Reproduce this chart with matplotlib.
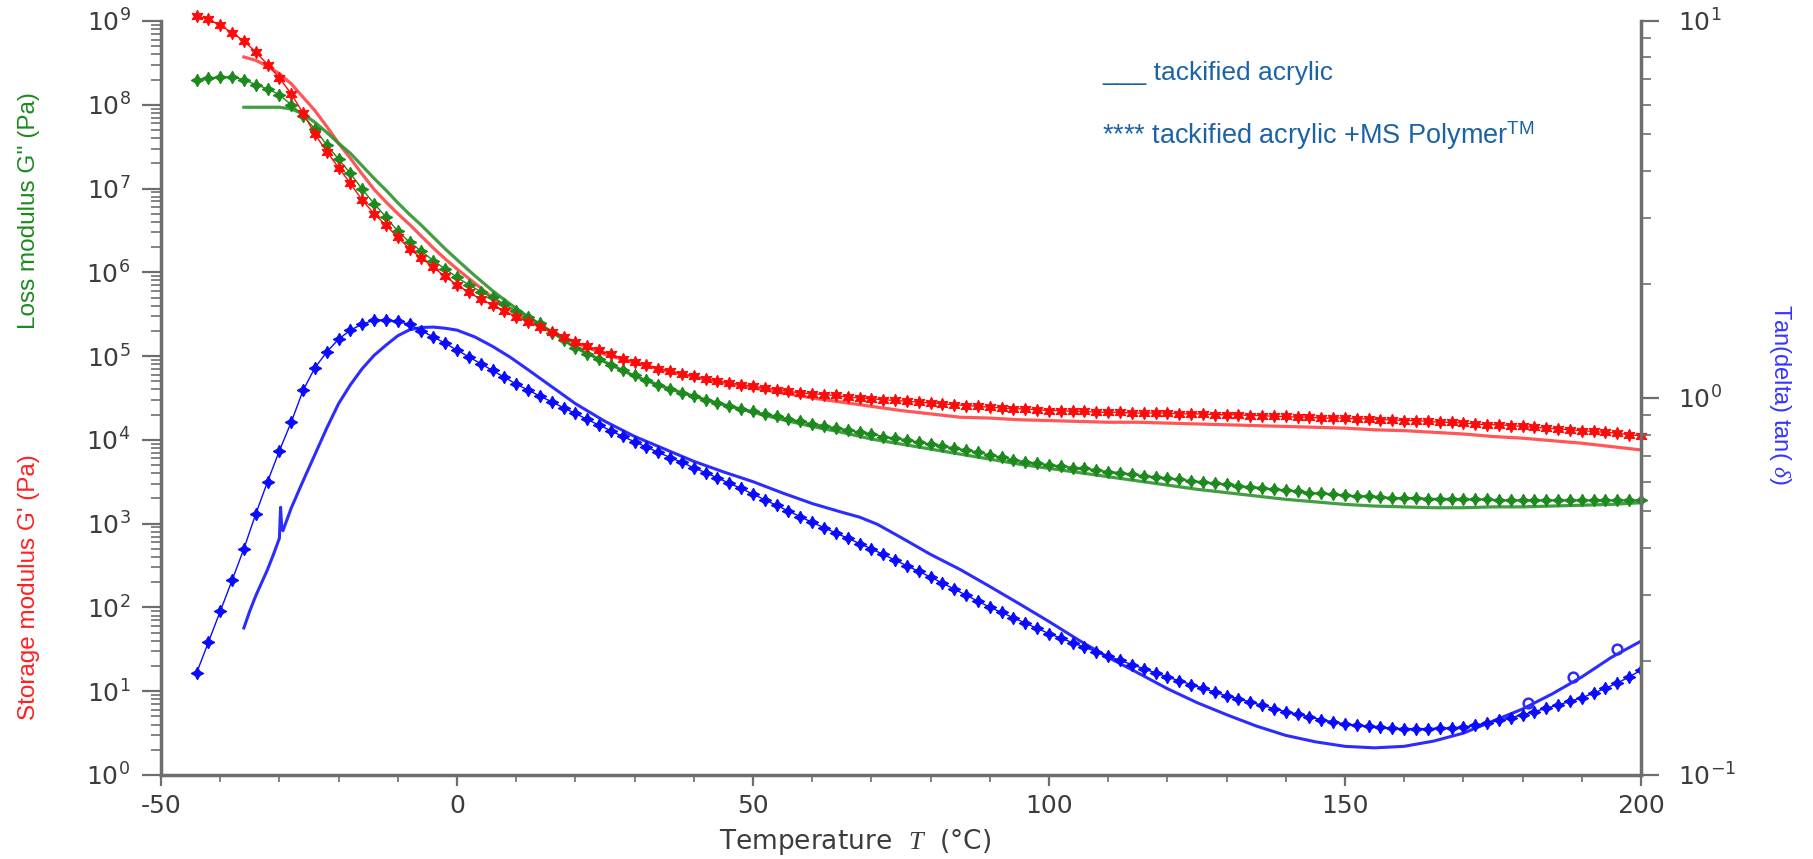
import matplotlib
matplotlib.use('Agg')
import matplotlib.pyplot as plt
import numpy as np
from matplotlib.ticker import LogLocator, NullFormatter, MultipleLocator

plt.rcParams['axes.unicode_minus'] = False
plt.rcParams['mathtext.fontset'] = 'custom'
plt.rcParams['mathtext.rm'] = 'Liberation Sans'
plt.rcParams['mathtext.it'] = 'Liberation Serif:italic'

# tackified acrylic + MS Polymer (marked series), temperature in degC
temps_ms = list(range(-44, 201, 2))
# log10 of storage modulus G' (Pa)
log_storage_ms = [
    9.06, 9.02, 8.95, 8.86, 8.76, 8.63, 8.48, 8.32, 8.13, 7.90,
    7.65, 7.44, 7.25, 7.06, 6.86, 6.70, 6.56, 6.42, 6.28, 6.17,
    6.06, 5.95, 5.85, 5.76, 5.68, 5.61, 5.54, 5.47, 5.41, 5.35,
    5.29, 5.23, 5.17, 5.12, 5.07, 5.02, 4.97, 4.93, 4.89, 4.85,
    4.82, 4.79, 4.76, 4.73, 4.70, 4.68, 4.66, 4.64, 4.62, 4.60,
    4.58, 4.56, 4.55, 4.54, 4.53, 4.51, 4.50, 4.49, 4.48, 4.47,
    4.46, 4.45, 4.44, 4.43, 4.42, 4.41, 4.40, 4.39, 4.38, 4.37,
    4.37, 4.36, 4.35, 4.35, 4.34, 4.34, 4.33, 4.33, 4.33, 4.32,
    4.32, 4.32, 4.32, 4.31, 4.31, 4.31, 4.30, 4.30, 4.30, 4.29,
    4.29, 4.28, 4.28, 4.27, 4.27, 4.26, 4.26, 4.26, 4.25, 4.25,
    4.24, 4.24, 4.23, 4.23, 4.22, 4.21, 4.21, 4.20, 4.19, 4.18,
    4.18, 4.17, 4.16, 4.15, 4.14, 4.13, 4.12, 4.11, 4.10, 4.09,
    4.08, 4.06, 4.05]
# log10 of loss modulus G'' (Pa)
log_loss_ms = [
    8.30, 8.32, 8.33, 8.33, 8.30, 8.24, 8.19, 8.12, 8.00, 7.87,
    7.71, 7.52, 7.35, 7.18, 6.99, 6.82, 6.66, 6.49, 6.36, 6.25,
    6.14, 6.04, 5.94, 5.85, 5.77, 5.70, 5.62, 5.54, 5.47, 5.39,
    5.28, 5.19, 5.10, 5.03, 4.96, 4.89, 4.83, 4.77, 4.71, 4.66,
    4.61, 4.56, 4.52, 4.48, 4.44, 4.41, 4.37, 4.34, 4.31, 4.28,
    4.25, 4.22, 4.19, 4.17, 4.14, 4.12, 4.09, 4.07, 4.04, 4.02,
    4.00, 3.97, 3.95, 3.93, 3.90, 3.88, 3.85, 3.82, 3.79, 3.76,
    3.74, 3.72, 3.70, 3.69, 3.67, 3.66, 3.64, 3.62, 3.61, 3.59,
    3.57, 3.56, 3.54, 3.53, 3.51, 3.50, 3.48, 3.47, 3.45, 3.44,
    3.43, 3.41, 3.40, 3.39, 3.37, 3.36, 3.35, 3.34, 3.33, 3.33,
    3.32, 3.31, 3.31, 3.31, 3.30, 3.30, 3.30, 3.29, 3.29, 3.29,
    3.28, 3.28, 3.28, 3.28, 3.28, 3.28, 3.28, 3.28, 3.28, 3.28,
    3.28, 3.28, 3.28]
# log10 of tan(delta)
log_tan_ms = [
    -0.730, -0.648, -0.566, -0.484, -0.400, -0.308, -0.222, -0.140, -0.064, 0.020,
    0.080, 0.122, 0.156, 0.180, 0.196, 0.206, 0.207, 0.203, 0.195, 0.178,
    0.162, 0.145, 0.127, 0.109, 0.091, 0.073, 0.055, 0.037, 0.021, 0.005,
    -0.010, -0.026, -0.041, -0.057, -0.072, -0.087, -0.102, -0.116, -0.130, -0.144,
    -0.158, -0.171, -0.185, -0.198, -0.212, -0.226, -0.240, -0.255, -0.270, -0.285,
    -0.300, -0.315, -0.330, -0.344, -0.358, -0.372, -0.386, -0.400, -0.415, -0.430,
    -0.445, -0.460, -0.475, -0.491, -0.507, -0.523, -0.539, -0.555, -0.569, -0.583,
    -0.597, -0.611, -0.625, -0.637, -0.649, -0.661, -0.673, -0.685, -0.696, -0.707,
    -0.718, -0.729, -0.740, -0.750, -0.760, -0.770, -0.780, -0.790, -0.798, -0.807,
    -0.815, -0.824, -0.832, -0.839, -0.846, -0.853, -0.859, -0.865, -0.868, -0.871,
    -0.874, -0.876, -0.877, -0.877, -0.877, -0.876, -0.875, -0.873, -0.868, -0.862,
    -0.855, -0.848, -0.840, -0.832, -0.823, -0.814, -0.805, -0.795, -0.783, -0.770,
    -0.756, -0.740, -0.722]

# tackified acrylic (plain lines)
temps_acr = [-36, -34, -32, -30, -28, -26, -24, -22, -20, -18, -16, -14, -12, -10,
             -8, -6, -4, -2, 0, 3, 6, 9, 12, 16, 20, 25, 30, 35, 40, 45, 50, 55,
             60, 65, 70, 75, 80, 85, 90, 95, 100, 105, 110, 115, 120, 125, 130,
             135, 140, 145, 150, 155, 160, 165, 170, 175, 180, 185, 190, 195, 200]
log_storage_acr = [8.57, 8.53, 8.46, 8.37, 8.25, 8.09, 7.93, 7.74, 7.54, 7.36,
                   7.17, 6.99, 6.84, 6.70, 6.57, 6.43, 6.29, 6.16, 6.04, 5.87,
                   5.70, 5.55, 5.43, 5.29, 5.16, 5.02, 4.92, 4.83, 4.75, 4.68,
                   4.62, 4.56, 4.50, 4.45, 4.40, 4.35, 4.31, 4.27, 4.26, 4.24,
                   4.23, 4.22, 4.21, 4.21, 4.20, 4.19, 4.18, 4.17, 4.16, 4.15,
                   4.14, 4.12, 4.11, 4.09, 4.07, 4.04, 4.02, 3.99, 3.96, 3.92,
                   3.88]
log_loss_acr = [7.97, 7.97, 7.97, 7.97, 7.95, 7.89, 7.79, 7.67, 7.54, 7.42,
                7.27, 7.12, 6.98, 6.83, 6.69, 6.56, 6.42, 6.28, 6.15, 5.96,
                5.78, 5.62, 5.47, 5.29, 5.10, 4.93, 4.76, 4.63, 4.52, 4.42,
                4.33, 4.24, 4.16, 4.09, 4.01, 3.95, 3.89, 3.83, 3.77, 3.71,
                3.66, 3.61, 3.56, 3.51, 3.46, 3.41, 3.37, 3.33, 3.29, 3.26,
                3.23, 3.21, 3.20, 3.19, 3.19, 3.20, 3.20, 3.21, 3.22, 3.23,
                3.25]
temps_tan_acr = [-36, -35, -34, -33, -32, -31, -30, -29.8, -29.6, -29.4, -28, -26,
                 -24, -22, -20, -18, -16, -14, -12, -10, -8, -6, -4, -2, 0, 3, 6,
                 9, 12, 16, 20, 25, 30, 35, 40, 45, 50, 55, 60, 65, 68, 71, 75, 80,
                 85, 90, 95, 100, 105, 110, 115, 120, 125, 130, 135, 140, 145, 150,
                 155, 160, 165, 170, 175, 180, 185, 190, 195, 200]
log_tan_acr = [-0.610, -0.565, -0.525, -0.490, -0.455, -0.415, -0.372, -0.290,
               -0.345, -0.352, -0.292, -0.220, -0.150, -0.080, -0.015, 0.035,
               0.078, 0.113, 0.140, 0.165, 0.181, 0.187, 0.188, 0.185, 0.180,
               0.162, 0.137, 0.108, 0.075, 0.030, -0.015, -0.062, -0.102, -0.135,
               -0.168, -0.196, -0.222, -0.252, -0.280, -0.303, -0.316, -0.335,
               -0.370, -0.415, -0.455, -0.500, -0.546, -0.593, -0.642, -0.688,
               -0.729, -0.771, -0.808, -0.840, -0.870, -0.895, -0.912, -0.924,
               -0.928, -0.924, -0.910, -0.889, -0.857, -0.825, -0.785, -0.740,
               -0.688, -0.645]
# small loops on the tan(delta) line
loop_temps = [181, 188.5, 196]
loop_log_tan = [-0.81, -0.74, -0.665]

red, red_line = '#ff0a0a', '#ff4545'
green, green_line = '#1c8a1c', '#2e942e'
blue, blue_line = '#0a0aff', '#2c2cff'
axis_grey = '#6e6e6e'
text_grey = '#3c3c3c'

fig = plt.figure(figsize=(18.13, 8.59), dpi=100)
ax = fig.add_axes([0.0888, 0.0978, 0.8163, 0.8778])
ax2 = ax.twinx()

ax.plot(temps_acr, 10 ** np.array(log_storage_acr), color=red_line, lw=2.3, alpha=0.9)
ax.plot(temps_acr, 10 ** np.array(log_loss_acr), color=green_line, lw=2.3, alpha=0.9)
ax.plot(temps_ms, 10 ** np.array(log_loss_ms), color=green, lw=1, marker=(4, 1, 0),
        ms=9, mew=0.8, clip_on=False)
ax.plot(temps_ms, 10 ** np.array(log_storage_ms), color=red, lw=1, marker=(6, 1, 0),
        ms=9, mew=0.8, clip_on=False)

ax2.plot(temps_tan_acr, 10 ** np.array(log_tan_acr), color=blue_line, lw=2.2)
ax2.plot(loop_temps, 10 ** np.array(loop_log_tan), 'o', mfc='none', mec=blue_line,
         ms=7, mew=1.8)
ax2.plot(temps_ms, 10 ** np.array(log_tan_ms), color=blue, lw=1, marker=(4, 1, 0),
         ms=9, mew=0.8)

ax.set_xlim(-50, 200)
ax.set_yscale('log')
ax.set_ylim(1, 1e9)
ax2.set_yscale('log')
ax2.set_ylim(0.1, 10)

ax.xaxis.set_major_locator(MultipleLocator(50))
ax.xaxis.set_minor_locator(MultipleLocator(10))
ax.yaxis.set_major_locator(LogLocator(base=10, numticks=12))
ax.yaxis.set_minor_locator(LogLocator(base=10, subs=(2, 3, 4, 5, 6, 7, 8, 9), numticks=12))
ax.yaxis.set_minor_formatter(NullFormatter())
ax2.yaxis.set_major_locator(LogLocator(base=10, numticks=12))
ax2.yaxis.set_minor_locator(LogLocator(base=10, subs=(2, 3, 4, 5, 6, 7, 8, 9), numticks=12))
ax2.yaxis.set_minor_formatter(NullFormatter())

ax.tick_params(axis='y', which='major', direction='out', length=14, width=1.6,
               color=axis_grey, labelsize=18, labelcolor=text_grey, pad=8)
ax.tick_params(axis='y', which='minor', direction='out', length=7, width=1.2, color=axis_grey)
ax.tick_params(axis='x', which='major', direction='out', length=8, width=1.6,
               color=axis_grey, labelsize=18, labelcolor=text_grey, pad=6)
ax.tick_params(axis='x', which='minor', direction='out', length=5, width=1.2, color=axis_grey)
ax2.tick_params(axis='y', which='major', direction='out', length=13, width=1.6,
                color=axis_grey, labelsize=18, labelcolor=text_grey, pad=14)
ax2.tick_params(axis='y', which='minor', direction='out', length=7, width=1.2, color=axis_grey)

for a in (ax, ax2):
    a.spines['top'].set_visible(False)
ax.spines['right'].set_visible(False)
ax2.spines['left'].set_visible(False)
ax2.spines['bottom'].set_visible(False)
for s in (ax.spines['left'], ax.spines['bottom'], ax2.spines['right']):
    s.set_color(axis_grey)
    s.set_linewidth(2.5)

fig.text(0.4716, 0.02, 'Temperature  $T$  (°C)', ha='center', va='center',
         fontsize=19, color=text_grey)
fig.text(0.016, 0.755, "Loss modulus G'' (Pa)", rotation=90, ha='center', va='center',
         fontsize=17.5, color=green, family='Liberation Sans')
fig.text(0.016, 0.316, "Storage modulus G' (Pa)", rotation=90, ha='center', va='center',
         fontsize=17.5, color='#ff2020', family='Liberation Sans')
fig.text(0.982, 0.541, 'Tan(delta) tan( $\\delta$)', rotation=270, ha='center', va='center',
         fontsize=17, color='#3535ff', family='Liberation Sans')

legend_blue = '#1c63a6'
fig.text(0.608, 0.915, '___ tackified acrylic', ha='left', va='center',
         fontsize=19, color=legend_blue, family='Liberation Sans')
fig.text(0.608, 0.842, '**** tackified acrylic +MS Polymer$^{\\mathrm{TM}}$', ha='left',
         va='center', fontsize=19.5, color=legend_blue, family='Liberation Sans')

fig.savefig('out.png', dpi=100)
